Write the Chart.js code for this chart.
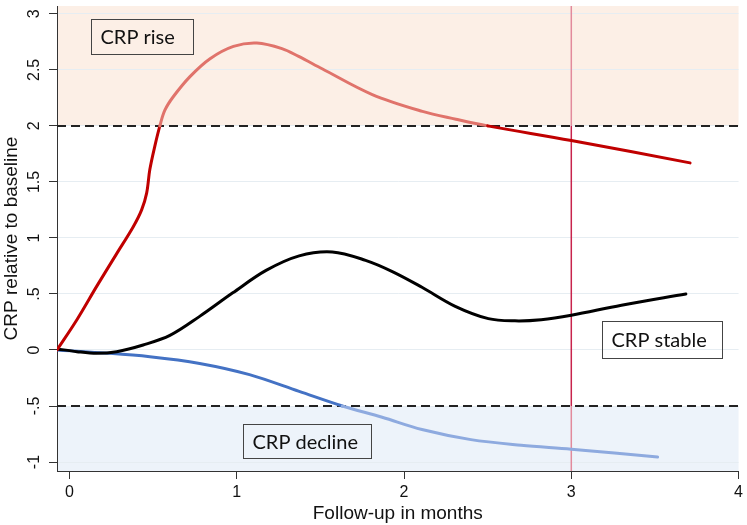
<!DOCTYPE html>
<html>
<head>
<meta charset="utf-8">
<script src="https://cdn.jsdelivr.net/npm/chart.js@4.4.0/dist/chart.umd.min.js"></script>
<style>
  html, body { margin: 0; padding: 0; background: #fff; }
</style>
</head>
<body>
<canvas id="chart" width="747" height="525"></canvas>
<script>
// CRP relative to baseline over follow-up (months)
const riseMonths = [-0.075, 0.044, 0.163, 0.282, 0.381, 0.431, 0.461, 0.48, 0.51, 0.54, 0.57, 0.62, 0.72, 0.84, 0.98, 1.12, 1.27, 1.37, 1.51, 1.81, 2.11, 2.31, 2.50, 3.0, 3.71];
const riseCrp    = [0, 0.27, 0.57, 0.86, 1.10, 1.25, 1.40, 1.61, 1.82, 2.0, 2.14, 2.26, 2.44, 2.60, 2.71, 2.74, 2.69, 2.62, 2.51, 2.28, 2.13, 2.06, 2.0, 1.87, 1.67];

const stableMonths = [-0.075, 0.044, 0.163, 0.282, 0.44, 0.6, 0.778, 0.976, 1.175, 1.373, 1.571, 1.77, 1.93, 2.107, 2.306, 2.504, 2.663, 2.82, 3.0, 3.30, 3.685];
const stableCrp    = [0.01, -0.015, -0.03, -0.015, 0.045, 0.13, 0.30, 0.51, 0.71, 0.84, 0.875, 0.80, 0.70, 0.56, 0.39, 0.28, 0.26, 0.27, 0.31, 0.40, 0.50];

const declineMonths = [-0.075, 0.183, 0.48, 0.778, 1.076, 1.373, 1.631, 1.869, 2.107, 2.40, 2.70, 3.0, 3.516];
const declineCrp    = [0, -0.024, -0.06, -0.12, -0.22, -0.37, -0.5, -0.60, -0.71, -0.80, -0.85, -0.885, -0.955];

const xTicks = [0, 1, 2, 3, 4];
const yTicks = [-1, -0.5, 0, 0.5, 1, 1.5, 2, 2.5, 3];
const yTickLabels = ['-1', '-.5', '0', '.5', '1', '1.5', '2', '2.5', '3'];

const riseCut = 2;
const declineCut = -0.5;
const markMonth = 3;

// annotation boxes: left / top in data units
const notes = [
  { text: 'CRP rise',    x: 0.127, y: 2.955, w: 102, h: 35 },
  { text: 'CRP stable',  x: 3.183, y: 0.259, w: 120, h: 37 },
  { text: 'CRP decline', x: 1.040, y: -0.661, w: 128, h: 34 }
];

const pts = (xs, ys) => xs.map((x, i) => ({ x: x, y: ys[i] }));

const backdrop = {
  id: 'backdrop',
  beforeDraw(chart) {
    const { ctx, chartArea: a, scales: { y } } = chart;
    ctx.save();
    ctx.fillStyle = '#fcefe6';
    ctx.fillRect(a.left, a.top, a.right - a.left, y.getPixelForValue(riseCut) - a.top);
    ctx.fillStyle = '#edf3fa';
    const yb = y.getPixelForValue(declineCut);
    ctx.fillRect(a.left, yb, a.right - a.left, a.bottom - yb);
    ctx.restore();
  },
  beforeDatasetsDraw(chart) {
    const { ctx, chartArea: a, scales: { x, y } } = chart;
    const xm = x.getPixelForValue(markMonth);
    const y2 = y.getPixelForValue(riseCut);
    const y5 = y.getPixelForValue(declineCut);
    ctx.save();
    ctx.lineWidth = 1.5;
    ctx.strokeStyle = '#e28a9c';
    ctx.beginPath();
    ctx.moveTo(xm, a.top); ctx.lineTo(xm, y2);
    ctx.moveTo(xm, y5); ctx.lineTo(xm, a.bottom);
    ctx.stroke();
    ctx.strokeStyle = '#c8244c';
    ctx.beginPath();
    ctx.moveTo(xm, y2); ctx.lineTo(xm, y5);
    ctx.stroke();

    ctx.strokeStyle = '#222';
    ctx.lineWidth = 2;
    ctx.setLineDash([9, 5]);
    ctx.beginPath();
    ctx.moveTo(a.left, y2); ctx.lineTo(a.right, y2);
    ctx.moveTo(a.left, y5); ctx.lineTo(a.right, y5);
    ctx.stroke();
    ctx.restore();
  },
  afterDatasetsDraw(chart) {
    const { ctx, scales: { x, y } } = chart;
    ctx.save();
    ctx.font = '20px Lato';
    ctx.textBaseline = 'middle';
    ctx.textAlign = 'left';
    notes.forEach(n => {
      const px = Math.round(x.getPixelForValue(n.x)) + 0.5;
      const py = Math.round(y.getPixelForValue(n.y)) + 0.5;
      ctx.strokeStyle = '#444';
      ctx.lineWidth = 1;
      ctx.strokeRect(px, py, n.w, n.h);
      ctx.fillStyle = '#111';
      ctx.fillText(n.text, px + 9, py + n.h / 2 + 1);
    });
    ctx.restore();
  },
  afterDraw(chart) {
    const { ctx, scales: { y } } = chart;
    ctx.save();
    ctx.font = '16px "Liberation Sans"';
    ctx.fillStyle = '#111';
    ctx.textAlign = 'center';
    ctx.textBaseline = 'middle';
    yTicks.forEach((v, i) => {
      ctx.save();
      ctx.translate(y.left + 35, y.getPixelForValue(v));
      ctx.rotate(-Math.PI / 2);
      ctx.fillText(yTickLabels[i], 0, 0);
      ctx.restore();
    });
    ctx.restore();
  }
};

new Chart(document.getElementById('chart'), {
  type: 'line',
  data: {
    datasets: [
      {
        label: 'CRP rise',
        data: pts(riseMonths, riseCrp),
        borderColor: '#c00000',
        segment: {
          borderColor: c => (c.p0.parsed.y + c.p1.parsed.y) / 2 > riseCut ? '#e0736b' : '#c00000'
        }
      },
      {
        label: 'CRP stable',
        data: pts(stableMonths, stableCrp),
        borderColor: '#000'
      },
      {
        label: 'CRP decline',
        data: pts(declineMonths, declineCrp),
        borderColor: '#4472c4',
        segment: {
          borderColor: c => (c.p0.parsed.y + c.p1.parsed.y) / 2 < declineCut ? '#8eaadf' : '#4472c4'
        }
      }
    ]
  },
  options: {
    responsive: false,
    animation: false,
    layout: { padding: { top: 6, right: 6, left: 0, bottom: 0 } },
    elements: {
      line: { borderWidth: 3, tension: 0.35, fill: false, borderCapStyle: 'round' },
      point: { radius: 0, hoverRadius: 0 }
    },
    plugins: { legend: { display: false }, tooltip: { enabled: false } },
    scales: {
      x: {
        type: 'linear',
        min: -0.075,
        max: 4,
        afterBuildTicks: s => { s.ticks = xTicks.map(v => ({ value: v })); },
        afterFit: s => { s.height = 54; },
        grid: { drawOnChartArea: false, tickLength: 8, tickColor: '#333', tickWidth: 1 },
        border: { color: '#333', width: 1 },
        ticks: {
          font: { family: 'Liberation Sans', size: 16 },
          color: '#111',
          padding: 4,
          maxRotation: 0,
          callback: v => String(v)
        },
        title: {
          display: true,
          text: 'Follow-up in months',
          font: { family: 'Liberation Sans', size: 19 },
          color: '#111',
          padding: { top: 0, bottom: 0 }
        }
      },
      y: {
        type: 'linear',
        min: -1.08,
        max: 3.07,
        afterBuildTicks: s => { s.ticks = yTicks.map(v => ({ value: v })); },
        afterFit: s => { s.width = 57; },
        grid: { color: '#e6edf2', lineWidth: 1, tickLength: 8, tickColor: '#333', tickWidth: 1 },
        border: { color: '#333', width: 1 },
        ticks: { display: false },
        title: {
          display: true,
          text: 'CRP relative to baseline',
          font: { family: 'Liberation Sans', size: 19 },
          color: '#111',
          padding: 0
        }
      }
    }
  },
  plugins: [backdrop]
});
</script>
</body>
</html>
